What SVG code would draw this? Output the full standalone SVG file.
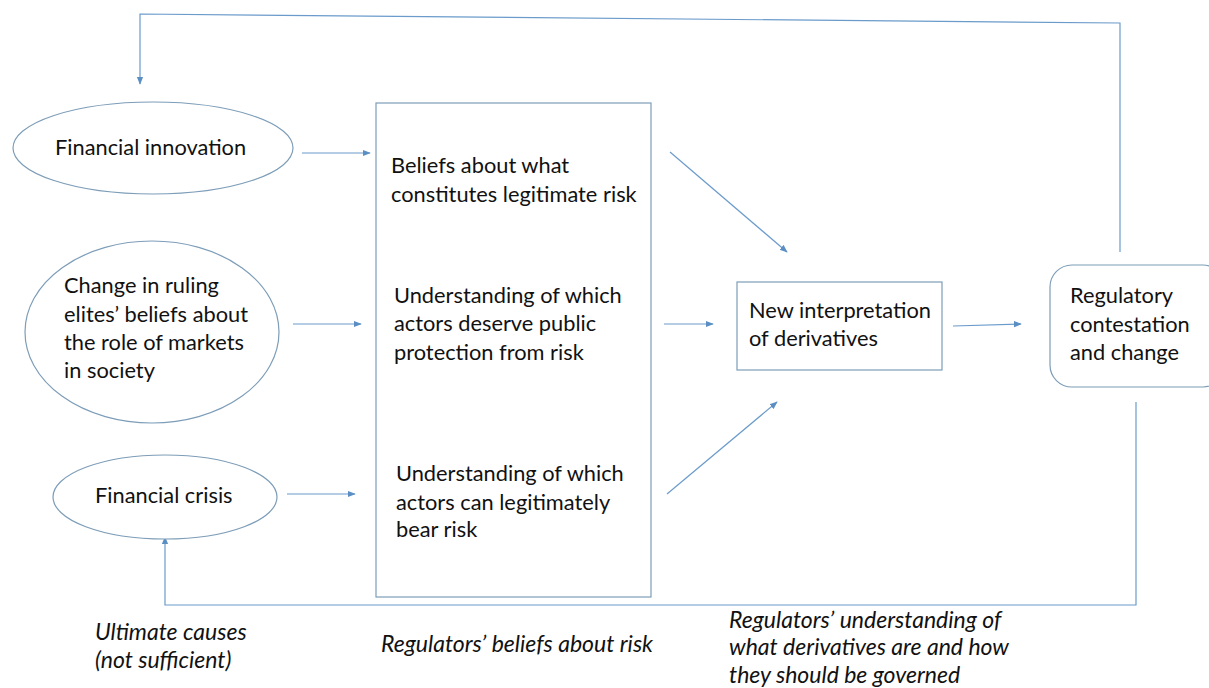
<svg xmlns="http://www.w3.org/2000/svg" width="1209" height="688" viewBox="0 0 1209 688">
  <defs>
    <marker id="arrow" viewBox="0 0 10 10" refX="9" refY="5" markerWidth="8" markerHeight="8" markerUnits="userSpaceOnUse" orient="auto">
      <path d="M0,1 L10,5 L0,9 z" fill="#5b8fc4"/>
    </marker>
    <style>
      .shape { fill: #ffffff; stroke: #7d9db8; stroke-width: 1.2; }
      .link { fill: none; stroke: #6b9bcb; stroke-width: 1.2; }
      .t { font-family: Lato, "Liberation Sans", sans-serif; font-size: 21.8px; fill: #111111; }
      .note { font-family: Lato, "Liberation Sans", sans-serif; font-size: 23px; font-style: italic; fill: #111111; }
    </style>
  </defs>
  <rect width="1209" height="688" fill="#ffffff"/>

  <!-- connectors -->
  <g id="connectors">
    <polyline class="link" points="1120,252 1120,23 140,14 140,84" marker-end="url(#arrow)"/>
    <polyline class="link" points="1136,402 1136,605 165,605 165,537" marker-end="url(#arrow)"/>
    <line class="link" x1="302" y1="153" x2="370" y2="153" marker-end="url(#arrow)"/>
    <line class="link" x1="293" y1="324" x2="361" y2="324" marker-end="url(#arrow)"/>
    <line class="link" x1="287" y1="494" x2="355" y2="494" marker-end="url(#arrow)"/>
    <line class="link" x1="670" y1="152" x2="787" y2="252" marker-end="url(#arrow)"/>
    <line class="link" x1="664" y1="324" x2="713" y2="324" marker-end="url(#arrow)"/>
    <line class="link" x1="667" y1="494" x2="777" y2="402" marker-end="url(#arrow)"/>
    <line class="link" x1="953" y1="326" x2="1021" y2="324" marker-end="url(#arrow)"/>
  </g>

  <!-- ultimate causes -->
  <g id="financial-innovation">
    <ellipse class="shape" cx="153" cy="148" rx="140" ry="46"/>
    <text class="t" x="55" y="155">Financial innovation</text>
  </g>
  <g id="elite-beliefs">
    <ellipse class="shape" cx="152" cy="332" rx="127" ry="91"/>
    <text class="t" x="64" y="293">Change in ruling</text>
    <text class="t" x="64" y="322">elites’ beliefs about</text>
    <text class="t" x="64" y="350">the role of markets</text>
    <text class="t" x="64" y="378">in society</text>
  </g>
  <g id="financial-crisis">
    <ellipse class="shape" cx="165" cy="497" rx="112" ry="42"/>
    <text class="t" x="95" y="503">Financial crisis</text>
  </g>

  <!-- regulators' beliefs about risk -->
  <g id="risk-beliefs">
    <rect class="shape" x="376" y="103" width="275" height="494"/>
    <text class="t" x="391" y="173">Beliefs about what</text>
    <text class="t" x="391" y="202">constitutes legitimate risk</text>
    <text class="t" x="394" y="303">Understanding of which</text>
    <text class="t" x="394" y="331">actors deserve public</text>
    <text class="t" x="394" y="360">protection from risk</text>
    <text class="t" x="396" y="481">Understanding of which</text>
    <text class="t" x="396" y="510">actors can legitimately</text>
    <text class="t" x="396" y="537">bear risk</text>
  </g>

  <g id="new-interpretation">
    <rect class="shape" x="737" y="282" width="205" height="88"/>
    <text class="t" x="749" y="318">New interpretation</text>
    <text class="t" x="749" y="346">of derivatives</text>
  </g>

  <g id="regulatory-change">
    <rect class="shape" x="1050" y="265" width="175" height="122" rx="22" ry="22"/>
    <text class="t" x="1070" y="303">Regulatory</text>
    <text class="t" x="1070" y="332">contestation</text>
    <text class="t" x="1070" y="360">and change</text>
  </g>

  <!-- column captions -->
  <g id="captions">
    <text class="note" x="95" y="640">Ultimate causes</text>
    <text class="note" x="95" y="668">(not sufficient)</text>
    <text class="note" x="381" y="652">Regulators’ beliefs about risk</text>
    <text class="note" x="729" y="628">Regulators’ understanding of</text>
    <text class="note" x="729" y="655">what derivatives are and how</text>
    <text class="note" x="729" y="683">they should be governed</text>
  </g>
</svg>
